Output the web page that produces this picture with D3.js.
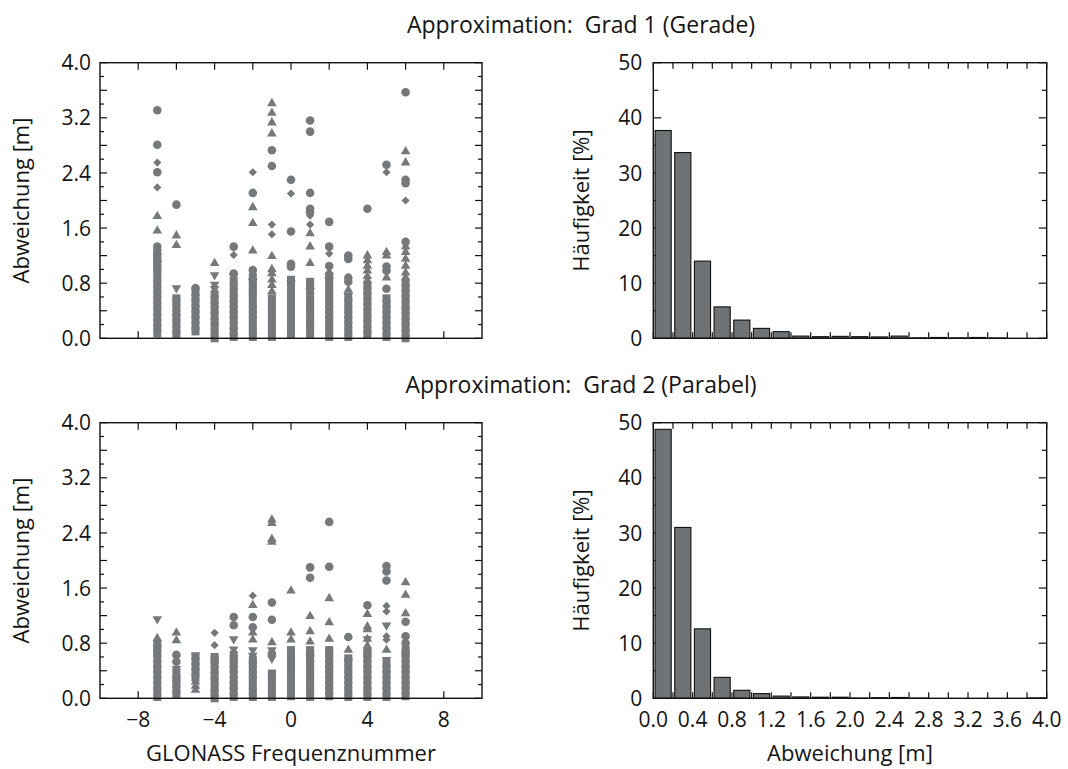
<!DOCTYPE html>
<html>
<head>
<meta charset="utf-8">
<script src="https://cdn.jsdelivr.net/npm/d3@7"></script>
<style>
  body { margin: 0; background: #fff; }
  svg text { font-family: "Open Sans", "Noto Sans", sans-serif; fill: #141414; }
</style>
</head>
<body>
<svg id="chart" width="1068" height="769"></svg>
<script>
// ---------------- data ----------------
const freqNumbers = [-7, -6, -5, -4, -3, -2, -1, 0, 1, 2, 3, 4, 5, 6];

// Grad 1: dense core of each frequency column (Abweichung in m)
const grad1Core = [
  [0.07, 0.15, 0.22, 0.31, 0.39, 0.47, 0.56, 0.63, 0.71, 0.80, 0.87, 0.95],
  [0.05, 0.13, 0.22, 0.30, 0.37, 0.45, 0.52, 0.58],
  [0.10, 0.18, 0.27, 0.35, 0.43, 0.51, 0.59, 0.67],
  [0.00, 0.08, 0.17, 0.24, 0.33, 0.41, 0.49, 0.56, 0.64],
  [0.02, 0.10, 0.19, 0.27, 0.35, 0.42, 0.51, 0.58, 0.66, 0.75, 0.84],
  [0.02, 0.11, 0.18, 0.27, 0.34, 0.43, 0.50, 0.59, 0.66, 0.74, 0.82, 0.89],
  [0.02, 0.10, 0.19, 0.26, 0.35, 0.42, 0.50, 0.58],
  [0.05, 0.13, 0.21, 0.30, 0.37, 0.46, 0.53, 0.62, 0.69, 0.77, 0.85],
  [0.05, 0.13, 0.22, 0.29, 0.38, 0.45, 0.54, 0.61, 0.69, 0.76, 0.82],
  [0.02, 0.10, 0.18, 0.27, 0.34, 0.43, 0.50, 0.59, 0.66, 0.74, 0.83, 0.90],
  [0.02, 0.10, 0.19, 0.26, 0.35, 0.42, 0.51, 0.59],
  [0.05, 0.13, 0.21, 0.30, 0.37, 0.46, 0.53, 0.62, 0.69, 0.77],
  [0.02, 0.10, 0.19, 0.26, 0.34, 0.43, 0.50, 0.58],
  [0.00, 0.08, 0.16, 0.25, 0.32, 0.41, 0.48, 0.57, 0.64, 0.73, 0.80]
];

// Grad 1: individual points [Frequenznummer, Abweichung]
const grad1Circles = [
  [-7, 3.31], [-7, 2.81], [-7, 2.41], [-7, 1.33], [-7, 1.27], [-7, 1.22], [-7, 1.17], [-7, 1.12],
  [-6, 1.94], [-5, 0.73], [-3, 1.33], [-3, 0.94], [-2, 2.11], [-2, 0.99],
  [-1, 2.73], [-1, 2.50], [0, 2.30], [0, 1.55], [0, 1.08], [0, 1.04],
  [1, 3.16], [1, 3.00], [1, 2.11], [1, 1.88], [1, 1.83],
  [2, 1.69], [2, 1.33], [2, 1.05], [3, 1.20], [3, 1.15], [3, 0.88], [3, 0.82],
  [4, 1.88], [5, 2.52], [5, 1.04], [5, 0.98], [5, 0.72],
  [6, 3.57], [6, 2.30], [6, 2.25], [6, 1.40]
];
const grad1TrianglesUp = [
  [-7, 1.77], [-7, 1.56], [-6, 1.49], [-6, 1.35], [-4, 1.09],
  [-2, 1.90], [-2, 1.67], [-2, 1.27],
  [-1, 3.41], [-1, 3.27], [-1, 3.13], [-1, 2.97], [-1, 1.19], [-1, 1.00], [-1, 0.94], [-1, 0.85], [-1, 0.77], [-1, 0.68],
  [1, 1.52], [1, 1.33], [1, 1.09], [1, 0.76], [2, 0.96], [3, 0.70],
  [4, 1.20], [4, 1.13], [4, 1.05], [4, 0.98], [4, 0.90], [4, 0.84],
  [5, 1.25], [5, 1.20], [5, 0.88],
  [6, 2.71], [6, 2.55], [6, 1.33], [6, 1.25], [6, 1.15], [6, 1.05], [6, 0.95], [6, 0.88]
];
const grad1TrianglesDown = [
  [-6, 0.73], [-4, 0.92], [-4, 0.78], [-4, 0.72], [-3, 0.90], [-2, 0.82], [0, 0.80], [2, 0.85], [3, 0.62]
];
const grad1Diamonds = [
  [-7, 2.55], [-7, 2.19], [-3, 1.21], [-2, 2.41], [-1, 1.65], [-1, 1.51],
  [0, 2.10], [1, 1.78], [1, 1.65], [2, 1.23], [5, 2.41], [6, 2.00]
];
const grad1Squares = [[-7, 1.08], [-7, 1.02]];

// Grad 2: dense core of each frequency column
const grad2Core = [
  [0.02, 0.10, 0.18, 0.27, 0.34, 0.43, 0.50, 0.58, 0.66, 0.73, 0.78],
  [0.05, 0.13, 0.21, 0.28, 0.34],
  [0.30, 0.38, 0.46, 0.54, 0.61],
  [0.00, 0.08, 0.16, 0.25, 0.33, 0.41, 0.49, 0.56, 0.60],
  [0.02, 0.10, 0.19, 0.26, 0.35, 0.42, 0.50, 0.57, 0.63],
  [0.02, 0.10, 0.18, 0.27, 0.34, 0.42, 0.50, 0.56],
  [0.02, 0.10, 0.19, 0.27, 0.34, 0.36],
  [0.03, 0.11, 0.19, 0.27, 0.35, 0.43, 0.51, 0.58, 0.65, 0.70],
  [0.02, 0.10, 0.18, 0.27, 0.35, 0.42, 0.50, 0.58, 0.65, 0.70],
  [0.03, 0.11, 0.19, 0.26, 0.35, 0.43, 0.50, 0.58, 0.65, 0.70],
  [0.02, 0.10, 0.19, 0.27, 0.35, 0.43, 0.51, 0.58],
  [0.02, 0.10, 0.18, 0.27, 0.34, 0.43, 0.50, 0.58, 0.64, 0.68],
  [0.02, 0.10, 0.19, 0.27, 0.35, 0.43, 0.51],
  [0.03, 0.11, 0.19, 0.26, 0.35, 0.43, 0.50, 0.58, 0.65, 0.70]
];

const grad2Circles = [
  [-6, 0.63], [-6, 0.53], [-3, 1.18], [-3, 1.06], [-2, 1.18], [-2, 1.03],
  [-1, 1.39], [-1, 1.14], [-1, 0.65], [1, 1.90], [1, 1.75], [1, 0.62],
  [2, 2.56], [2, 1.91], [3, 0.89], [4, 1.35], [5, 1.92], [5, 1.84], [5, 1.71],
  [6, 1.11], [6, 0.90], [6, 0.80]
];
const grad2TrianglesUp = [
  [-7, 0.87], [-6, 0.95], [-6, 0.84], [-5, 0.24], [-5, 0.18], [-5, 0.12],
  [-2, 1.35], [-2, 0.95], [-2, 0.85],
  [-1, 2.59], [-1, 2.54], [-1, 2.31], [-1, 2.27], [-1, 0.81],
  [0, 1.56], [0, 0.95], [0, 0.85], [1, 1.19], [1, 0.97], [1, 0.82],
  [2, 1.45], [2, 1.10], [2, 0.86], [3, 0.70],
  [4, 1.22], [4, 1.04], [4, 1.00], [4, 0.86], [4, 0.76], [5, 0.70],
  [6, 1.68], [6, 1.50], [6, 1.23]
];
const grad2TrianglesDown = [
  [-7, 1.15], [-6, 0.43], [-6, 0.39], [-5, 0.62], [-3, 0.86], [-3, 0.71],
  [-2, 0.70], [-2, 0.62], [-1, 0.70], [-1, 0.58], [3, 0.55], [4, 0.86], [5, 1.06], [5, 0.56]
];
const grad2Diamonds = [
  [-4, 0.95], [-4, 0.77], [-2, 1.49], [5, 1.34], [5, 1.26], [5, 0.90], [5, 0.85]
];
const grad2Squares = [];

// Häufigkeit [%] per 0.2 m class, classes start at these values
const binStarts = [0.0, 0.2, 0.4, 0.6, 0.8, 1.0, 1.2, 1.4, 1.6, 1.8, 2.0, 2.2, 2.4, 2.6, 2.8, 3.0, 3.2, 3.4, 3.6, 3.8];
const grad1Freq = [37.7, 33.7, 14.0, 5.7, 3.3, 1.8, 1.2, 0.4, 0.3, 0.35, 0.3, 0.25, 0.4, 0.08, 0.15, 0.08, 0.15, 0.06, 0, 0];
const grad2Freq = [48.8, 31.0, 12.6, 3.8, 1.45, 0.85, 0.4, 0.25, 0.2, 0.2, 0.04, 0.1, 0.15, 0.04, 0, 0, 0, 0, 0, 0.06];

// axis ticks
const devMajorTicks = [0, 0.4, 0.8, 1.2, 1.6, 2.0, 2.4, 2.8, 3.2, 3.6, 4.0];
const devMinorTicks = [0.2, 0.6, 1.0, 1.4, 1.8, 2.2, 2.6, 3.0, 3.4, 3.8];
const devLabels = [0, 0.8, 1.6, 2.4, 3.2, 4.0];
const freqTicks = [-8, -6, -4, -2, 0, 2, 4, 6, 8];
const freqLabels = [-8, -4, 0, 4, 8];
const pctTicks = [0, 5, 10, 15, 20, 25, 30, 35, 40, 45, 50];
const pctLabels = [0, 10, 20, 30, 40, 50];
const histXTicks = [0, 0.2, 0.4, 0.6, 0.8, 1.0, 1.2, 1.4, 1.6, 1.8, 2.0, 2.2, 2.4, 2.6, 2.8, 3.0, 3.2, 3.4, 3.6, 3.8, 4.0];
const histXLabels = [0, 0.4, 0.8, 1.2, 1.6, 2.0, 2.4, 2.8, 3.2, 3.6, 4.0];

const titles = ["Approximation:  Grad 1 (Gerade)", "Approximation:  Grad 2 (Parabel)"];

// ---------------- drawing ----------------
const svg = d3.select("#chart");
const FS_TICK = 21;
const FS_LABEL = 22;
const FS_TITLE = 23;
const markerColor = "#76797c";
const barColor = "#6f7376";

const rows = [
  { top: 62.7, bottom: 338.3, titleY: 33.3 },
  { top: 422.7, bottom: 698.3, titleY: 393.3 }
];
const scatterX = [100, 482];
const histX = [653.3, 1046.7];

const fmt1 = d3.format(".1f");
const fmtInt = d3.format("d");

function inside(arr, v) { return arr.some(a => Math.abs(a - v) < 1e-9); }

// ticks pointing inwards on all four sides
function drawTicks(g, xScale, yScale, xTicks, yTicks, xLen, yLen) {
  const [x0, x1] = xScale.range();
  const [y1, y0] = yScale.range();
  xTicks.forEach(t => {
    const x = xScale(t);
    g.append("line").attr("x1", x).attr("x2", x).attr("y1", y1).attr("y2", y1 - xLen(t));
    g.append("line").attr("x1", x).attr("x2", x).attr("y1", y0).attr("y2", y0 + xLen(t));
  });
  yTicks.forEach(t => {
    const y = yScale(t);
    g.append("line").attr("x1", x0).attr("x2", x0 + yLen(t)).attr("y1", y).attr("y2", y);
    g.append("line").attr("x1", x1).attr("x2", x1 - yLen(t)).attr("y1", y).attr("y2", y);
  });
  g.selectAll("line").attr("stroke", "#111").attr("stroke-width", 1.2);
}

function drawFrame(g, xScale, yScale) {
  const [x0, x1] = xScale.range();
  const [y1, y0] = yScale.range();
  g.append("rect").attr("x", x0).attr("y", y0).attr("width", x1 - x0).attr("height", y1 - y0)
    .attr("fill", "none").attr("stroke", "#111").attr("stroke-width", 1.4);
}

const symCircle = d3.symbol().type(d3.symbolCircle).size(58)();
const symTri = d3.symbol().type(d3.symbolTriangle).size(40)();
const symSquare = d3.symbol().type(d3.symbolSquare).size(64)();
const symDiamond = d3.symbol().type(d3.symbolSquare).size(34)();

function drawScatter(row, core, circles, triUp, triDown, diamonds, squares, showXLabels) {
  const x = d3.scaleLinear().domain([-10, 10]).range(scatterX);
  const y = d3.scaleLinear().domain([0, 4]).range([row.bottom, row.top]);
  const g = svg.append("g");

  const ticks = g.append("g");
  drawTicks(ticks, x, y, freqTicks, devMajorTicks.concat(devMinorTicks), () => 7,
    t => inside(devMajorTicks, t) ? 7 : 4);

  const pts = g.append("g").attr("fill", markerColor);
  core.forEach((vals, i) => {
    vals.forEach(v => {
      pts.append("path").attr("d", symSquare)
        .attr("transform", `translate(${x(freqNumbers[i])},${y(v)})`);
    });
  });
  const place = (arr, d, rot) => arr.forEach(([f, v]) => {
    pts.append("path").attr("d", d)
      .attr("transform", `translate(${x(f)},${y(v)}) rotate(${rot})`);
  });
  place(squares, symSquare, 0);
  place(circles, symCircle, 0);
  place(triUp, symTri, 0);
  place(triDown, symTri, 180);
  place(diamonds, symDiamond, 45);

  drawFrame(g, x, y);

  devLabels.forEach(t => {
    g.append("text").attr("x", scatterX[0] - 9).attr("y", y(t)).attr("dy", "0.36em")
      .attr("text-anchor", "end").attr("font-size", FS_TICK).text(fmt1(t));
  });
  if (showXLabels) {
    freqLabels.forEach(t => {
      g.append("text").attr("x", x(t)).attr("y", 727)
        .attr("text-anchor", "middle").attr("font-size", FS_TICK).text(d3.format("d")(t));
    });
    g.append("text").attr("x", x(0)).attr("y", 761).attr("text-anchor", "middle")
      .attr("font-size", FS_LABEL).text("GLONASS Frequenznummer");
  }
  g.append("text")
    .attr("transform", `translate(29,${(row.top + row.bottom) / 2}) rotate(-90)`)
    .attr("text-anchor", "middle").attr("font-size", FS_LABEL).text("Abweichung [m]");
}

function drawHist(row, freq, showXLabels) {
  const x = d3.scaleLinear().domain([0, 4]).range(histX);
  const y = d3.scaleLinear().domain([0, 50]).range([row.bottom, row.top]);
  const g = svg.append("g");

  const ticks = g.append("g");
  drawTicks(ticks, x, y, histXTicks, pctTicks, () => 6,
    t => inside(pctLabels, t) ? 8 : 5);

  g.append("g").selectAll("rect")
    .data(binStarts.map((s, i) => ({ s, v: freq[i] })).filter(d => d.v > 0))
    .join("rect")
    .attr("x", d => x(d.s + 0.018))
    .attr("width", d => x(d.s + 0.182) - x(d.s + 0.018))
    .attr("y", d => y(d.v))
    .attr("height", d => y(0) - y(d.v))
    .attr("fill", barColor).attr("stroke", "#111").attr("stroke-width", 1.1);

  drawFrame(g, x, y);

  pctLabels.forEach(t => {
    g.append("text").attr("x", histX[0] - 11).attr("y", y(t)).attr("dy", "0.36em")
      .attr("text-anchor", "end").attr("font-size", FS_TICK).text(fmtInt(t));
  });
  if (showXLabels) {
    histXLabels.forEach(t => {
      g.append("text").attr("x", x(t)).attr("y", 727)
        .attr("text-anchor", "middle").attr("font-size", FS_TICK).text(fmt1(t));
    });
    g.append("text").attr("x", x(2)).attr("y", 761).attr("text-anchor", "middle")
      .attr("font-size", FS_LABEL).text("Abweichung [m]");
  }
  g.append("text")
    .attr("transform", `translate(589,${(row.top + row.bottom) / 2}) rotate(-90)`)
    .attr("text-anchor", "middle").attr("font-size", FS_LABEL).text("Häufigkeit [%]");
}

rows.forEach((row, i) => {
  svg.append("text").attr("x", 581).attr("y", row.titleY).attr("text-anchor", "middle")
    .attr("font-size", FS_TITLE).style("white-space", "pre").text(titles[i]);
});

drawScatter(rows[0], grad1Core, grad1Circles, grad1TrianglesUp, grad1TrianglesDown, grad1Diamonds, grad1Squares, false);
drawScatter(rows[1], grad2Core, grad2Circles, grad2TrianglesUp, grad2TrianglesDown, grad2Diamonds, grad2Squares, true);
drawHist(rows[0], grad1Freq, false);
drawHist(rows[1], grad2Freq, true);
</script>
</body>
</html>
